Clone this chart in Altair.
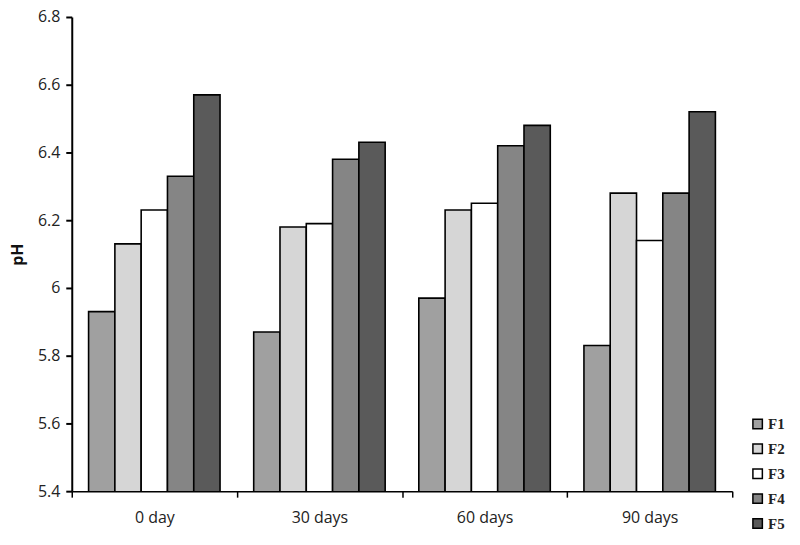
import altair as alt
import pandas as pd

days = ["0 day", "30 days", "60 days", "90 days"]
formulas = ["F1", "F2", "F3", "F4", "F5"]
F1 = [5.93, 5.87, 5.97, 5.83]
F2 = [6.13, 6.18, 6.23, 6.28]
F3 = [6.23, 6.19, 6.25, 6.14]
F4 = [6.33, 6.38, 6.42, 6.28]
F5 = [6.57, 6.43, 6.48, 6.52]
fills = ["#a0a0a0", "#d6d6d6", "#ffffff", "#858585", "#5a5a5a"]

series = {"F1": F1, "F2": F2, "F3": F3, "F4": F4, "F5": F5}
rows = []
for f in formulas:
    for d, v in zip(days, series[f]):
        rows.append({"day": d, "formula": f, "pH": v})
df = pd.DataFrame(rows)

chart = alt.Chart(df).mark_bar(stroke="black", strokeWidth=1.6, clip=True).encode(
    x=alt.X("day:N", sort=days, title=None,
            scale=alt.Scale(paddingInner=0, paddingOuter=0),
            axis=alt.Axis(labelAngle=0, tickBand="extent", labelFont="Open Sans",
                          labelFontSize=16, labelColor="#222", labelPadding=12,
                          domainColor="black", domainWidth=1.5, tickColor="black",
                          tickWidth=1.5, tickSize=6, zindex=2)),
    xOffset=alt.XOffset("formula:N", sort=formulas,
                        scale=alt.Scale(paddingInner=0, paddingOuter=0.64)),
    y=alt.Y("pH:Q", title="pH",
            scale=alt.Scale(domain=[5.4, 6.8], nice=False, zero=False),
            axis=alt.Axis(values=[5.4, 5.6, 5.8, 6.0, 6.2, 6.4, 6.6, 6.8], format="~g",
                          labelFont="Open Sans", labelFontSize=16, labelColor="#222",
                          labelPadding=6, grid=False, domainColor="black", domainWidth=2,
                          tickColor="black", tickWidth=2, tickSize=6, zindex=2,
                          titleFont="Open Sans", titleFontSize=16, titleFontWeight="bold",
                          titleColor="#111", titlePadding=12)),
    fill=alt.Fill("formula:N", sort=formulas,
                  scale=alt.Scale(domain=formulas, range=fills),
                  legend=alt.Legend(title=None, orient="none", legendX=681, legendY=401,
                                    symbolType="square", symbolSize=90,
                                    symbolStrokeColor="black", symbolStrokeWidth=1.5,
                                    labelFont="Liberation Serif", labelFontSize=15,
                                    labelFontWeight="bold", labelColor="#222",
                                    rowPadding=8, labelOffset=3)),
).properties(
    width=663, height=476,
    autosize=alt.AutoSizeParams(type="none"),
    padding={"left": 64, "top": 8, "right": 60, "bottom": 50},
).configure_view(stroke=None)

chart.save("out.html", embed_options={"renderer": "svg", "actions": False})
